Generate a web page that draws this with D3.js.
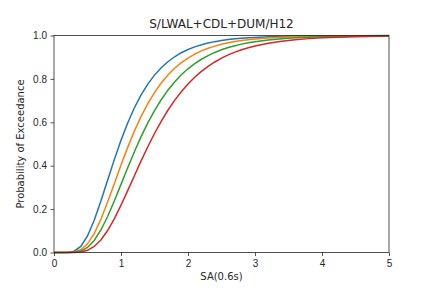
<!DOCTYPE html>
<html>
<head>
<meta charset="utf-8">
<script src="https://cdn.jsdelivr.net/npm/d3@7"></script>
<style>
  body { margin: 0; background: #fff; }
  svg { font-family: "DejaVu Sans", sans-serif; }
  .tick text { font-size: 10px; fill: #262626; }
  .tick line, .domain { stroke: #262626; }
</style>
</head>
<body>
<div id="chart"></div>
<script>

var title = 'S/LWAL+CDL+DUM/H12';
var xLabel = 'SA(0.6s)';
var yLabel = 'Probability of Exceedance';

var xTicks = [0, 1, 2, 3, 4, 5];
var yTicks = [0, 0.2, 0.4, 0.6, 0.8, 1.0];

var sa = [0, 0.1, 0.2, 0.3, 0.4, 0.5, 0.6, 0.7, 0.8, 0.9, 1.0, 1.1, 1.2, 1.3, 1.4, 1.5,
  1.6, 1.7, 1.8, 1.9, 2.0, 2.1, 2.2, 2.3, 2.4, 2.5, 2.6, 2.7, 2.8, 2.9, 3.0,
  3.2, 3.4, 3.6, 3.8, 4.0, 4.5, 5.0];

var blue = [0, 0, 0.0004, 0.0059, 0.0283, 0.0761, 0.1483, 0.237, 0.333, 0.428, 0.517,
  0.597, 0.667, 0.726, 0.776, 0.8175, 0.8515, 0.879, 0.902, 0.9206, 0.9355, 0.9475,
  0.9574, 0.9652, 0.9717, 0.9769, 0.9811, 0.9845, 0.9873, 0.9895, 0.9913,
  0.9941, 0.9959, 0.9972, 0.998, 0.9986, 0.9994, 0.9997];

var orange = [0, 0, 0.0001, 0.0021, 0.0126, 0.0398, 0.0874, 0.1534, 0.2323, 0.3173, 0.4028,
  0.4844, 0.5596, 0.627, 0.686, 0.737, 0.781, 0.818, 0.849, 0.875, 0.896, 0.914,
  0.929, 0.941, 0.951, 0.9596, 0.9664, 0.9721, 0.9768, 0.9807, 0.9839,
  0.9888, 0.9921, 0.9944, 0.996, 0.9972, 0.9987, 0.9994];

var green = [0, 0, 0, 0.001, 0.0066, 0.0232, 0.0553, 0.1038, 0.166, 0.2376, 0.3138,
  0.3905, 0.4646, 0.534, 0.5975, 0.654, 0.704, 0.748, 0.786, 0.819, 0.8466, 0.8703,
  0.8905, 0.9076, 0.922, 0.934, 0.9443, 0.953, 0.9602, 0.9664, 0.9715,
  0.9795, 0.9852, 0.9893, 0.9922, 0.9943, 0.9973, 0.9987];

var red = [0, 0, 0, 0.0003, 0.0024, 0.0102, 0.0278, 0.058, 0.1011, 0.1553, 0.218,
  0.285, 0.354, 0.422, 0.4873, 0.5485, 0.6045, 0.6554, 0.701, 0.741, 0.7767, 0.8076,
  0.8347, 0.858, 0.878, 0.8956, 0.9105, 0.9234, 0.9343, 0.9437, 0.9517,
  0.9645, 0.9738, 0.9806, 0.9856, 0.9893, 0.9948, 0.9974];

var seriesNames = ['blue', 'orange', 'green', 'red'];
var seriesValues = [blue, orange, green, red];
var seriesColors = ['#1f77b4', '#ff7f0e', '#2ca02c', '#d62728'];

var width = 432, height = 288;
var margin = { top: 35.5, right: 43, bottom: 35.5, left: 54 };
var innerWidth = width - margin.left - margin.right;
var innerHeight = height - margin.top - margin.bottom;

function translate(x, y) {
  return 'translate(' + x + ',' + y + ')';
}

var svg = d3.select('#chart').append('svg')
  .attr('width', width)
  .attr('height', height);

svg.append('rect')
  .attr('width', width)
  .attr('height', height)
  .attr('fill', '#fff');

var g = svg.append('g').attr('transform', translate(margin.left, margin.top));

var x = d3.scaleLinear().domain([0, 5]).range([0, innerWidth]);
var y = d3.scaleLinear().domain([0, 1]).range([innerHeight, 0]);

var line = d3.line()
  .x(function(d) { return x(d[0]); })
  .y(function(d) { return y(d[1]); });

// curves
g.selectAll('.curve')
  .data(seriesValues)
  .enter().append('path')
  .attr('class', 'curve')
  .attr('fill', 'none')
  .attr('stroke-width', 1.5)
  .attr('stroke', function(d, i) { return seriesColors[i]; })
  .attr('d', function(vals) {
    return line(sa.map(function(s, j) { return [s, vals[j]]; }));
  });

// axes
var xAxis = g.append('g')
  .attr('transform', translate(0, innerHeight))
  .call(d3.axisBottom(x).tickValues(xTicks).tickFormat(d3.format('d')).tickSizeOuter(0).tickSize(3.5).tickPadding(3.5));

var yAxis = g.append('g')
  .call(d3.axisLeft(y).tickValues(yTicks).tickFormat(d3.format('.1f')).tickSizeOuter(0).tickSize(3.5).tickPadding(3.5));

g.selectAll('.domain').attr('display', 'none');
g.selectAll('.tick line').attr('stroke-width', 0.8);

// frame
g.append('rect')
  .attr('width', innerWidth)
  .attr('height', innerHeight)
  .attr('fill', 'none')
  .attr('stroke', '#262626')
  .attr('stroke-width', 0.8);

// labels
svg.append('text')
  .attr('x', margin.left + innerWidth / 2)
  .attr('y', margin.top - 8)
  .attr('text-anchor', 'middle')
  .attr('font-size', 12)
  .attr('fill', '#262626')
  .text(title);

svg.append('text')
  .attr('x', margin.left + innerWidth / 2)
  .attr('y', 280)
  .attr('text-anchor', 'middle')
  .attr('font-size', 10)
  .attr('fill', '#262626')
  .text(xLabel);

svg.append('text')
  .attr('transform', translate(24, margin.top + innerHeight / 2) + ' rotate(-90)')
  .attr('text-anchor', 'middle')
  .attr('font-size', 10)
  .attr('fill', '#262626')
  .text(yLabel);

</script>
</body>
</html>
